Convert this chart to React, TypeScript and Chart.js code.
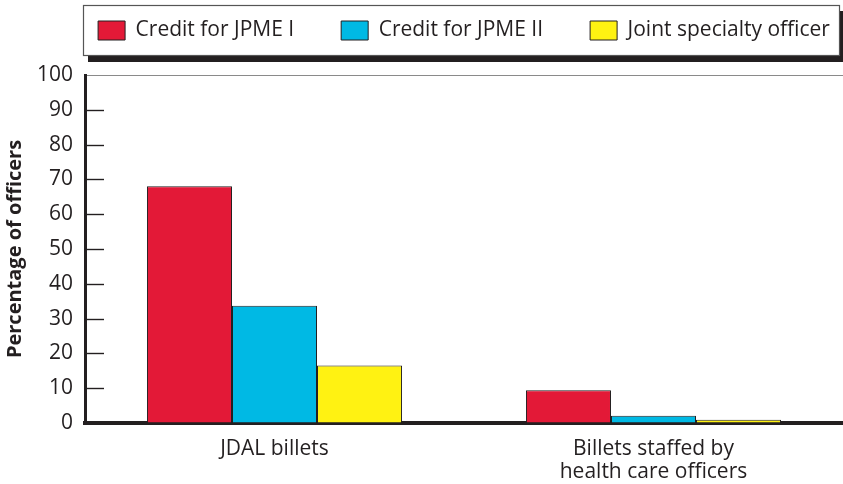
import React, { useEffect, useRef } from "react";
import { Chart, registerables } from "chart.js";

Chart.register(...registerables);

const categories = [["JDAL billets"], ["Billets staffed by", "health care officers"]];
const seriesLabels = ["Credit for JPME I", "Credit for JPME II", "Joint specialty officer"];
const jpme1Values = [68, 9.4];
const jpme2Values = [33.7, 2.1];
const jsoValues = [16.5, 0.9];
const seriesColors = ["#e31937", "#00b9e4", "#fff212"];
const yMin = 0;
const yMax = 100;
const yStep = 10;
const yTitle = "Percentage of officers";

const TEXT = "#231f20";
const FONT = "'Open Sans', 'Noto Sans', sans-serif";
const LEGEND_PAD = 47;

const layoutPlugin = {
  id: "layoutTweaks",
  beforeLayout(chart: any) {
    const lg = chart.legend;
    if (lg && !lg.__patched) {
      const orig = lg.fit;
      lg.fit = function () {
        const saved = this.maxWidth;
        this.maxWidth = 5000;
        orig.call(this);
        this.maxWidth = saved;
        this.width = saved;
        this.height = 102;
      };
      lg.__patched = true;
    }
  },
  afterLayout(chart: any) {
    const lg = chart.legend;
    if (lg) {
      lg.left -= LEGEND_PAD;
      lg.right += LEGEND_PAD;
      lg.width = lg.right - lg.left;
    }
  },
  beforeDraw(chart: any) {
    const lg = chart.legend;
    const ca = chart.chartArea;
    if (!lg || !lg.legendHitBoxes || !lg.legendHitBoxes.length) return;
    const hb = lg.legendHitBoxes[0];
    const cy = hb.top + hb.height / 2;
    const left = ca.left - 2;
    const right = ca.right - 3;
    const top = cy - 25.5;
    const bottom = cy + 25.5;
    const ctx = chart.ctx;
    ctx.save();
    ctx.fillStyle = TEXT;
    ctx.fillRect(left + 5, top + 6, right + 3 - (left + 5), bottom - top);
    ctx.fillStyle = "#ffffff";
    ctx.fillRect(left, top, right - left, bottom - top);
    ctx.strokeStyle = "#555555";
    ctx.lineWidth = 1.2;
    ctx.strokeRect(left + 0.5, top + 0.5, right - left - 1, bottom - top - 1);
    ctx.restore();
  },
  afterDraw(chart: any) {
    const y = chart.scales.y;
    const ca = chart.chartArea;
    const ctx = chart.ctx;
    ctx.save();
    ctx.strokeStyle = TEXT;
    ctx.lineWidth = 1.4;
    y.ticks.forEach((t: any) => {
      if (t.value <= yMin || t.value >= yMax) return;
      const py = Math.round(y.getPixelForValue(t.value)) + 0.5;
      ctx.beginPath();
      ctx.moveTo(ca.left, py);
      ctx.lineTo(ca.left + 19, py);
      ctx.stroke();
    });
    ctx.restore();
  },
};

export default function App() {
  const ref = useRef<HTMLCanvasElement | null>(null);

  useEffect(() => {
    if (!ref.current) return;
    const mk = (label: string, data: number[], color: string) => ({
      label,
      data,
      backgroundColor: color,
      borderColor: TEXT,
      borderWidth: 1,
      borderSkipped: "bottom" as const,
      categoryPercentage: 0.673,
      barPercentage: 1.0,
    });
    const chart = new Chart(ref.current, {
      type: "bar",
      data: {
        labels: categories,
        datasets: [
          mk(seriesLabels[0], jpme1Values, seriesColors[0]),
          mk(seriesLabels[1], jpme2Values, seriesColors[1]),
          mk(seriesLabels[2], jsoValues, seriesColors[2]),
        ],
      },
      options: {
        animation: false,
        responsive: true,
        maintainAspectRatio: false,
        layout: { padding: { top: -27, left: 0, right: 0, bottom: 0 } },
        plugins: {
          tooltip: { enabled: false },
          legend: {
            display: true,
            position: "top",
            fullSize: false,
            align: "center",
            labels: {
              boxWidth: 27,
              boxHeight: 19,
              padding: LEGEND_PAD,
              color: TEXT,
              font: { family: FONT, size: 21 },
            },
          },
        },
        scales: {
          x: {
            z: 1,
            grid: { display: false },
            border: { display: true, color: TEXT, width: 4 },
            ticks: {
              color: TEXT,
              font: { family: FONT, size: 21, lineHeight: 1.1 },
              padding: 6,
              maxRotation: 0,
              autoSkip: false,
            },
            afterFit(scale: any) {
              scale.height = 61;
            },
          },
          y: {
            min: yMin,
            max: yMax,
            ticks: {
              stepSize: yStep,
              color: TEXT,
              font: { family: FONT, size: 21 },
              padding: 12,
            },
            grid: {
              drawTicks: false,
              color: (c: any) => (c.tick && c.tick.value === yMax ? "#8a8a8a" : "rgba(0,0,0,0)"),
              lineWidth: 1,
            },
            border: { display: true, color: TEXT, width: 3 },
            title: {
              display: true,
              text: yTitle,
              color: TEXT,
              font: { family: FONT, size: 20, weight: "bold", lineHeight: 1.2 },
              padding: { top: 3, bottom: 0 },
            },
            afterFit(scale: any) {
              scale.width = 85;
            },
          },
        },
      },
      plugins: [layoutPlugin],
    });
    return () => chart.destroy();
  }, []);

  return (
    <div style={{ position: "absolute", left: 0, top: 0, width: 843, height: 484, background: "#ffffff" }}>
      <canvas ref={ref} />
    </div>
  );
}
